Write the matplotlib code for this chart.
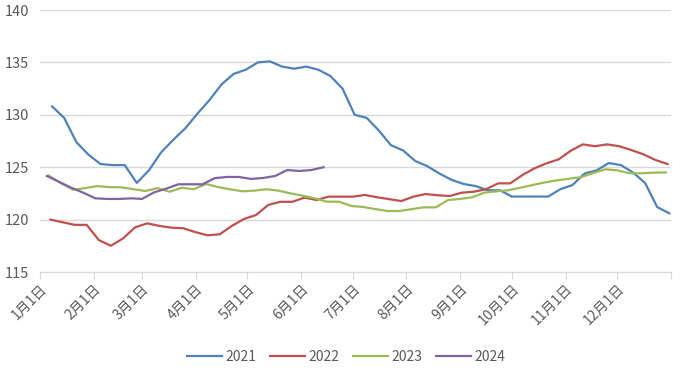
import pandas as pd
import matplotlib
matplotlib.use("Agg")
import matplotlib.pyplot as plt

plt.rcParams['font.family'] = ['Noto Sans CJK SC', 'DejaVu Sans']

# weekly values, each year drawn on a common Jan-Dec calendar
v2021 = [130.8, 129.7, 127.4, 126.2, 125.3, 125.2, 125.2, 123.5, 124.7, 126.4,
         127.6, 128.7, 130.1, 131.4, 132.9, 133.9, 134.3, 135.0, 135.1, 134.6,
         134.4, 134.6, 134.3, 133.7, 132.5, 130.0, 129.7, 128.5, 127.1, 126.6,
         125.6, 125.1, 124.4, 123.8, 123.4, 123.2, 122.8, 122.8, 122.2, 122.2,
         122.2, 122.2, 122.9, 123.3, 124.4, 124.7, 125.4, 125.2, 124.5, 123.5,
         121.2, 120.6]
v2022 = [120.0, 119.75, 119.5, 119.5, 118.05, 117.5, 118.2, 119.26, 119.64, 119.4,
         119.23, 119.17, 118.8, 118.5, 118.6, 119.4, 120.06, 120.44, 121.4, 121.7,
         121.7, 122.1, 121.87, 122.19, 122.19, 122.19, 122.35, 122.13, 121.95, 121.77,
         122.19, 122.44, 122.32, 122.25, 122.57, 122.66, 122.9, 123.46, 123.46, 124.25,
         124.89, 125.37, 125.75, 126.57, 127.18, 127.0, 127.18, 127.0, 126.64, 126.23,
         125.69, 125.3]
v2023 = [124.2, 123.5, 122.85, 123.0, 123.2, 123.1, 123.08, 122.9, 122.73, 123.0,
         122.66, 123.04, 122.9, 123.4, 123.1, 122.89, 122.7, 122.76, 122.9, 122.76,
         122.5, 122.28, 122.03, 121.71, 121.71, 121.3, 121.2, 121.0, 120.82, 120.82,
         121.0, 121.17, 121.17, 121.87, 121.97, 122.13, 122.57, 122.7, 122.8, 123.05,
         123.3, 123.55, 123.75, 123.9, 124.05, 124.45, 124.8, 124.7, 124.42, 124.42,
         124.48, 124.5]
v2024 = [124.16, 123.6, 123.05, 122.57, 122.03, 121.97, 121.97, 122.03, 121.97, 122.6,
         122.95, 123.37, 123.37, 123.37, 123.95, 124.07, 124.07, 123.88, 123.97, 124.16,
         124.73, 124.64, 124.73, 125.0]

first_friday = {'2021': '2021-01-08', '2022': '2022-01-07',
                '2023': '2023-01-06', '2024': '2024-01-05'}
series = {'2021': v2021, '2022': v2022, '2023': v2023, '2024': v2024}
colors = {'2021': '#4F81BD', '2022': '#C0504D', '2023': '#9BBB59', '2024': '#8064A2'}

months = [f"{m}月1日" for m in range(1, 13)]

fig = plt.figure(figsize=(6.92, 3.74), dpi=100)
ax = fig.add_axes([40 / 692, 1 - 272 / 374, 631 / 692, 262 / 374])

for year, vals in series.items():
    d = pd.date_range(first_friday[year], periods=len(vals), freq='7D')
    d = [x.replace(year=2021) for x in d]
    ax.plot(d, vals, color=colors[year], lw=1.6, label=year)

ax.set_ylim(115, 140)
ax.set_yticks(range(115, 141, 5))
ax.set_xlim(pd.Timestamp('2021-01-01'), pd.Timestamp('2022-01-01'))
ticks = [pd.Timestamp(2021, m, 1) for m in range(1, 13)] + [pd.Timestamp('2022-01-01')]
ax.set_xticks(ticks)
ax.set_xticklabels(months + [''], rotation=45, ha='right', va='top',
                   rotation_mode='anchor')

ax.grid(axis='y', color='#d9d9d9', lw=1)
ax.set_axisbelow(True)
for s in ['top', 'right', 'left']:
    ax.spines[s].set_visible(False)
ax.spines['bottom'].set_color('#d9d9d9')
ax.tick_params(axis='x', length=5, color='#d9d9d9', labelsize=10, labelcolor='#595959', pad=2)
ax.tick_params(axis='y', length=0, labelsize=10.5, labelcolor='#595959', pad=8)

fig.legend(loc='center', bbox_to_anchor=(0.5, 1 - 357 / 374), ncol=4, frameon=False,
           fontsize=10, handlelength=2.5, columnspacing=1.0, handletextpad=0.25,
           labelcolor='#595959')

fig.savefig('out.png', dpi=100)
